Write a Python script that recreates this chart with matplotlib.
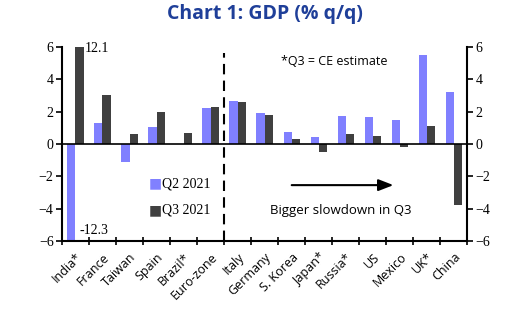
import matplotlib.pyplot as plt
import numpy as np

countries = ['India*', 'France', 'Taiwan', 'Spain', 'Brazil*', 'Euro-zone', 'Italy',
             'Germany', 'S. Korea', 'Japan*', 'Russia*', 'US', 'Mexico', 'UK*', 'China']
q2 = [-12.3, 1.3, -1.1, 1.05, 0.0, 2.2, 2.65, 1.9, 0.75, 0.45, 1.7, 1.65, 1.5, 5.5, 3.2]
q3 = [12.1, 3.0, 0.6, 2.0, 0.65, 2.3, 2.6, 1.8, 0.3, -0.5, 0.6, 0.5, -0.2, 1.1, -3.8]

c_q2 = '#8080ff'
c_q3 = '#404040'
serif = 'Liberation Serif'
sans = 'Open Sans'

fig = plt.figure(figsize=(5.25, 3.22), dpi=100)
ax = fig.add_axes([0.118, 0.252, 0.772, 0.602])

x = np.arange(len(countries))
w = 0.3
ax.bar(x - w / 2, np.clip(q2, -6, 6), w, color=c_q2, zorder=2)
ax.bar(x + w / 2, np.clip(q3, -6, 6), w, color=c_q3, zorder=2)

ax.set_xlim(-0.5, len(countries) - 0.5)
ax.set_ylim(-6, 6)
ax.axhline(0, color='black', lw=1.2, zorder=3)
ax.axvline(5.5, ymin=0, ymax=0.97, color='black', ls=(0, (5, 3)), lw=1.5, zorder=3)

# tick marks on category boundaries, labels on centres
ax.set_xticks(np.arange(-0.5, len(countries)), minor=False)
ax.set_xticklabels([])
ax.set_xticks(x, minor=True)
ax.set_xticklabels(countries, minor=True, rotation=45, ha='right', rotation_mode='anchor',
                   fontsize=9, family=sans)
ax.tick_params(axis='x', which='minor', length=0, pad=7)
ax.tick_params(axis='x', which='major', direction='inout', length=6, width=1.2)

ax.set_yticks(range(-6, 7, 2))
ax.tick_params(axis='y', which='both', direction='out', length=4, width=1.2,
               labelsize=10, right=True, labelright=True, pad=2)
for lab in ax.get_yticklabels():
    lab.set_family(serif)

for s in ['left', 'right', 'bottom']:
    ax.spines[s].set_linewidth(1.5)
ax.spines['top'].set_visible(False)

fig.text(0.505, 0.957, 'Chart 1: GDP (% q/q)', ha='center', va='center',
         fontsize=14, fontweight='bold', color='#1f3f99', family=sans)

ax.text(0.35, 5.9, '12.1', fontsize=10, family=serif, va='center')
ax.text(0.15, -5.35, '-12.3', fontsize=10, family=serif, va='center')
ax.text(9.57, 5.1, '*Q3 = CE estimate', fontsize=9, family=sans, va='center', ha='center')

ax.text(2.95, -2.45, '\u25a0', color=c_q2, fontsize=10, va='center', ha='center')
ax.text(3.2, -2.45, 'Q2 2021', fontsize=10, family=serif, va='center')
ax.text(2.95, -4.1, '\u25a0', color=c_q3, fontsize=10, va='center', ha='center')
ax.text(3.2, -4.1, 'Q3 2021', fontsize=10, family=serif, va='center')

ax.annotate('', xy=(11.87, -2.55), xytext=(7.9, -2.55),
            arrowprops=dict(arrowstyle='-|>,head_length=0.9,head_width=0.35',
                            color='black', lw=1.5))
ax.text(9.83, -4.1, 'Bigger slowdown in Q3', fontsize=9.5, family=sans,
        va='center', ha='center')

fig.savefig('out.png', dpi=100)
